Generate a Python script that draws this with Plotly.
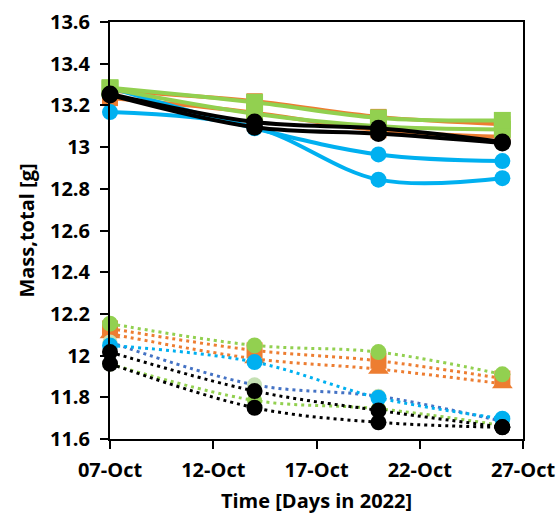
import plotly.graph_objects as go

dates = ["2022-10-07", "2022-10-14", "2022-10-20", "2022-10-26"]

# Upper group (solid, smoothed)
up_orange_a = [13.27, 13.22, 13.145, 13.11]
up_orange_b = [13.235, 13.165, 13.08, 13.05]
up_green_a = [13.285, 13.215, 13.14, 13.128]
up_green_b = [13.28, 13.16, 13.10, 13.085]
up_blue_a = [13.285, 13.09, 12.965, 12.933]
up_blue_b = [13.168, 13.095, 12.844, 12.851]
up_black_a = [13.255, 13.12, 13.09, 13.025]
up_black_b = [13.25, 13.095, 13.065, 13.02]

# Lower group (dotted)
lo_orange_sq = [12.13, 12.025, 11.975, 11.89]
lo_orange_tri = [12.105, 11.985, 11.935, 11.865]
lo_green_a = [12.153, 12.049, 12.017, 11.91]
lo_green_b = [11.96, 11.785, 11.745, 11.665]
lo_blue_a = [12.049, 11.969, 11.798, 11.697]
lo_blue_b = [12.065, 11.86, 11.805, 11.685]
lo_black_a = [12.017, 11.83, 11.737, 11.657]
lo_black_b = [11.961, 11.75, 11.68, 11.656]

y_ticks = [11.6, 11.8, 12.0, 12.2, 12.4, 12.6, 12.8, 13.0, 13.2, 13.4, 13.6]
y_tick_text = ["11.6", "11.8", "12", "12.2", "12.4", "12.6", "12.8", "13", "13.2", "13.4", "13.6"]

ORANGE = "#ED7D31"
GREEN = "#92D050"
BLUE = "#00B0F0"
ROYAL = "#4472C4"
PALE = "#C5E0B4"
BLACK = "#000000"

fig = go.Figure()

def solid(y, color, symbol, size=16):
    fig.add_trace(go.Scatter(
        x=dates, y=y, mode="lines+markers",
        line=dict(color=color, width=4, shape="spline"),
        marker=dict(color=color, symbol=symbol, size=size),
        showlegend=False, hoverinfo="skip", cliponaxis=False))

def dotted(y, color, symbol, mcolor=None, size=15):
    fig.add_trace(go.Scatter(
        x=dates, y=y, mode="lines+markers",
        line=dict(color=color, width=3, dash="3px,4px", shape="spline"),
        marker=dict(color=mcolor or color, symbol=symbol, size=size),
        showlegend=False, hoverinfo="skip", cliponaxis=False))

# lower group
dotted(lo_orange_tri, ORANGE, "triangle-up", size=18)
dotted(lo_orange_sq, ORANGE, "square", size=16)
dotted(lo_green_b, GREEN, "circle")
dotted(lo_green_a, GREEN, "circle", size=16)
dotted(lo_blue_b, ROYAL, "circle", mcolor=PALE)
dotted(lo_blue_a, BLUE, "circle", size=16)
dotted(lo_black_a, BLACK, "circle", size=16)
dotted(lo_black_b, BLACK, "circle", size=16)

# upper group
solid(up_orange_b, ORANGE, "square")
solid(up_orange_a, ORANGE, "square")
solid(up_blue_b, BLUE, "circle", 16)
solid(up_blue_a, BLUE, "circle", 16)
solid(up_green_b, GREEN, "square", 17)
solid(up_green_a, GREEN, "square", 17)
solid(up_black_b, BLACK, "circle", 17)
solid(up_black_a, BLACK, "circle", 17)

FONT = "Open Sans"
TXT = "#000000"

fig.update_layout(
    width=560, height=523,
    margin=dict(l=110, r=37, t=22, b=84),
    plot_bgcolor="white", paper_bgcolor="white",
    font=dict(family=FONT, size=20, color=TXT),
)
fig.update_xaxes(
    type="date", range=["2022-10-07", "2022-10-27"],
    tick0="2022-10-07", dtick=5 * 86400000, tickformat="%d-%b",
    ticks="outside", ticklen=8, tickwidth=1.5, tickcolor="black",
    ticklabelstandoff=4,
    showline=True, linecolor="black", linewidth=2, mirror=True,
    showgrid=False, zeroline=False, automargin=False,
    tickfont=dict(family=FONT, size=20, color=TXT, weight="bold"),
    title=dict(text="<b>Time [Days in 2022]</b>", font=dict(family=FONT, size=20), standoff=12),
)
fig.update_yaxes(
    range=[11.6, 13.6], tickvals=y_ticks, ticktext=y_tick_text,
    ticks="outside", ticklen=8, tickwidth=1.5, tickcolor="black",
    ticklabelstandoff=6,
    showline=True, linecolor="black", linewidth=2, mirror=True,
    showgrid=False, zeroline=False, automargin=False,
    tickfont=dict(family=FONT, size=20, color=TXT, weight="bold"),
    title=dict(text="<b>Mass,total [g]</b>", font=dict(family=FONT, size=20), standoff=10),
)

fig.write_html("out.html", config={"displayModeBar": False},
               post_script="document.body.style.margin='0';")
